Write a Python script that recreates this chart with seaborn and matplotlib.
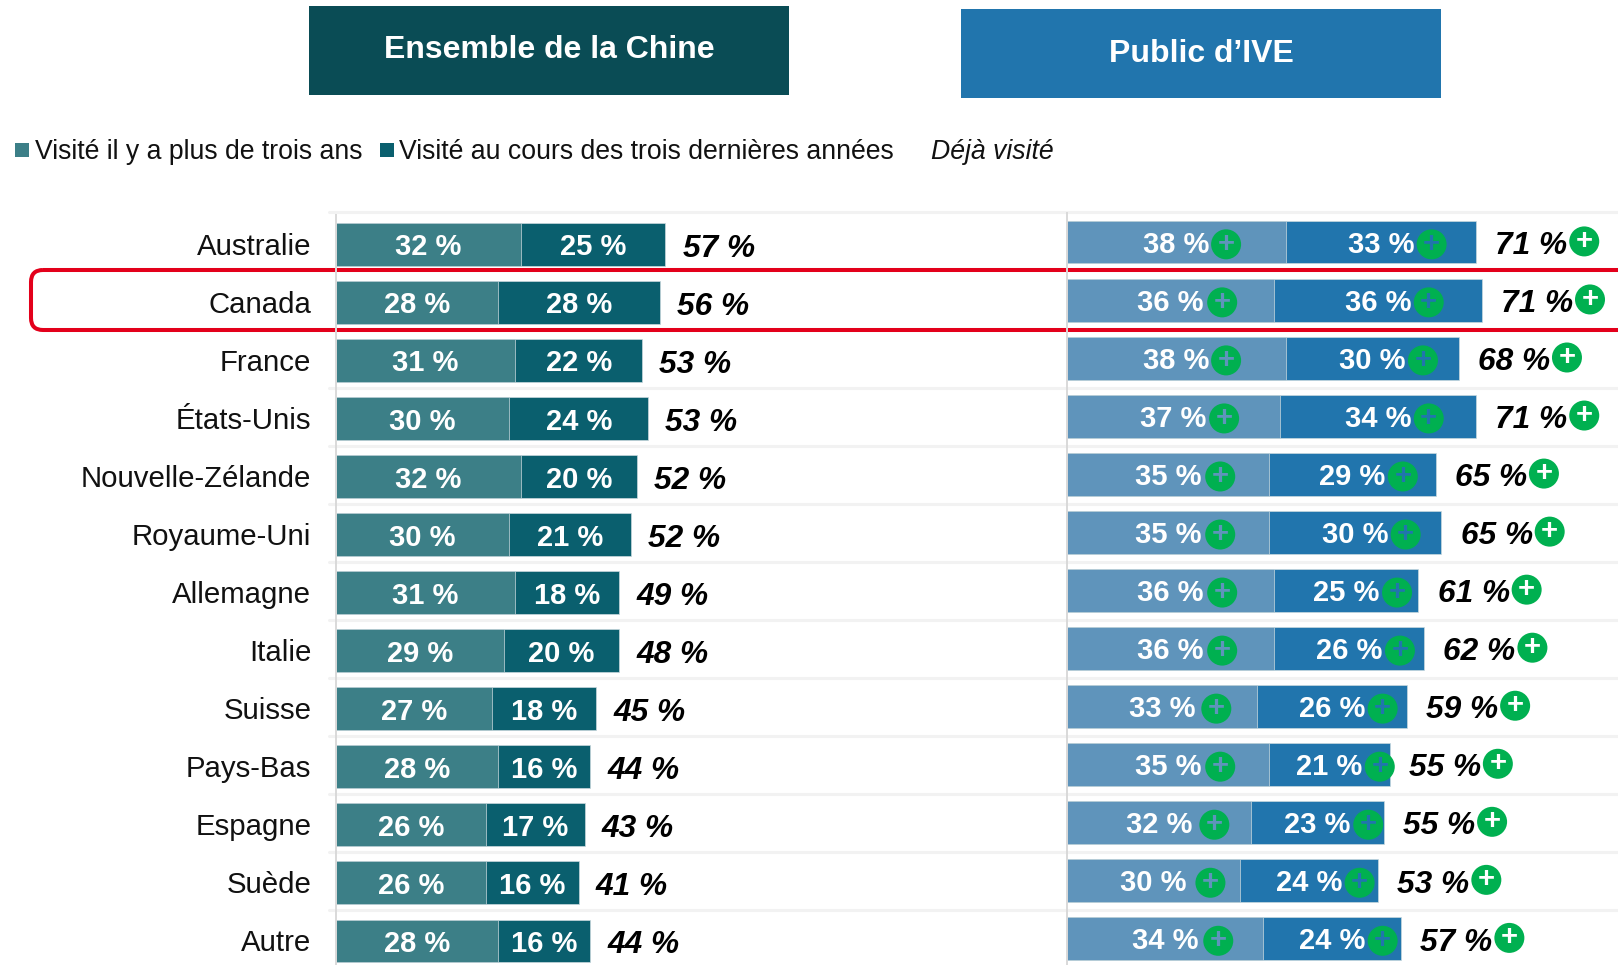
import pandas as pd
import matplotlib.pyplot as plt
import seaborn as sns
from matplotlib.patches import Rectangle, FancyBboxPatch, Ellipse
from matplotlib.transforms import ScaledTranslation

# Data
pays = ["Australie", "Canada", "France", "États-Unis", "Nouvelle-Zélande", "Royaume-Uni", "Allemagne",
        "Italie", "Suisse", "Pays-Bas", "Espagne", "Suède", "Autre"]
chine_ancien = [32, 28, 31, 30, 32, 30, 31, 29, 27, 28, 26, 26, 28]
chine_recent = [25, 28, 22, 24, 20, 21, 18, 20, 18, 16, 17, 16, 16]
chine_total = [57, 56, 53, 53, 52, 52, 49, 48, 45, 44, 43, 41, 44]
ive_ancien = [38, 36, 38, 37, 35, 35, 36, 36, 33, 35, 32, 30, 34]
ive_recent = [33, 36, 30, 34, 29, 30, 25, 26, 26, 21, 23, 24, 24]
ive_total = [71, 71, 68, 71, 65, 65, 61, 62, 59, 55, 55, 53, 57]

TITRES = ["Ensemble de la Chine", "Public d’IVE"]
LEGENDE = ["Visité il y a plus de trois ans", "Visité au cours des trois dernières années", "Déjà visité"]

# Colours
TEAL_HEAD = "#0A4C55"
TEAL_LIGHT = "#3C7F87"
TEAL_DARK = "#0A5F6E"
BLUE_LIGHT = "#5F94BB"
BLUE_DARK = "#2175AD"
GREEN = "#00B050"
RED = "#E3001B"
GRID = "#F2F2F2"
AXIS = "#D9D9D9"

W, H = 1618, 965
ROW = 58.04
FIRST_ROW = 245  # pixel centre of the first row, left panel


def draw_badge(ax, x, y, plus):
    # 30 px wide and high, whatever the data scale
    ax.add_patch(Ellipse((x, y), 30 / 5.76, 30 / ROW, color=GREEN, lw=0, zorder=5, clip_on=False))
    ax.text(x, y - 0.01, "+", color=plus, fontsize=21, fontweight="bold", ha="center", va="center",
            zorder=6, clip_on=False)


def draw_panel(ax, ancien, recent, total, light, dark, badges, total_dx):
    df = pd.DataFrame({"pays": pays, "ancien": ancien, "cumul": [a + r for a, r in zip(ancien, recent)]})
    sns.barplot(data=df, x="cumul", y="pays", color=dark, saturation=1, width=0.74, ax=ax,
                edgecolor="#C9D9DE", linewidth=0.5)
    sns.barplot(data=df, x="ancien", y="pays", color=light, saturation=1, width=0.74, ax=ax,
                edgecolor="#C9D9DE", linewidth=0.5)
    ax.patch.set_alpha(0)
    ax.set_xlabel("")
    ax.set_ylabel("")
    ax.set_xticks([])
    sns.despine(ax=ax, top=True, right=True, bottom=True)
    ax.spines["left"].set_color(AXIS)
    ax.spines["left"].set_linewidth(1.4)

    for i, (a, r, t) in enumerate(zip(ancien, recent, total)):
        ax.text(a / 2, i + 0.05, f"{a} %", color="white", fontsize=21, fontweight="bold",
                ha="center", va="center")
        ax.text(a + r / 2, i + 0.05, f"{r} %", color="white", fontsize=21, fontweight="bold",
                ha="center", va="center")
        ax.text(a + r + total_dx, i + 0.07, f"{t} %", color="black", fontsize=22.8, fontweight="bold",
                fontstyle="italic", ha="center", va="center")
        if badges:
            draw_badge(ax, a * 0.34 + 14.7, i + 0.04, light)
            draw_badge(ax, a + r / 2 + 8.8, i + 0.04, dark)
            draw_badge(ax, a + r + 18.8, i - 0.01, "white")


sns.set_theme(style="white")
plt.rcParams["font.family"] = ["Liberation Sans", "DejaVu Sans"]

fig = plt.figure(figsize=(W / 100, H / 100), dpi=100)

# Overlay in pixel coordinates for headers, legend, rules and the red box
bg = fig.add_axes([0, 0, 1, 1], zorder=0)
bg.set_xlim(0, W)
bg.set_ylim(H, 0)
bg.axis("off")

for x0, x1, y0, y1, col, titre in [(309, 789, 6, 95, TEAL_HEAD, TITRES[0]), (961, 1441, 9, 98, BLUE_DARK, TITRES[1])]:
    bg.add_patch(Rectangle((x0, y0), x1 - x0, y1 - y0, color=col, lw=0))
    bg.text((x0 + x1) / 2, y0 + 44.5, titre, color="white", fontsize=23, fontweight="bold", ha="center", va="center")

bg.add_patch(Rectangle((15, 143), 14, 14, color=TEAL_LIGHT, lw=0))
bg.text(35, 152, LEGENDE[0], fontsize=19.15, color="#111111", va="center")
bg.add_patch(Rectangle((380, 143), 14, 14, color=TEAL_DARK, lw=0))
bg.text(399, 152, LEGENDE[1], fontsize=19.15, color="#111111", va="center")
bg.text(931, 152, LEGENDE[2], fontsize=19.15, color="#111111", fontstyle="italic", va="center")

bg.plot([329, W], [212, 212], color=GRID, lw=2.2)
for k in range(3, 13):
    y = FIRST_ROW - ROW / 2 + k * ROW - 2
    bg.plot([329, W], [y, y], color=GRID, lw=2.2)

bg.add_patch(FancyBboxPatch((31, 270), W, 60, boxstyle="round,pad=0,rounding_size=12", fc="none", ec=RED, lw=2.9))


def panel_axes(x0, x1, dy):
    # rows -0.5..12.5 mapped to pixels
    top = FIRST_ROW + dy - ROW / 2
    bottom = top + 13 * ROW
    return fig.add_axes([x0 / W, 1 - bottom / H, (x1 - x0) / W, (bottom - top) / H], zorder=2)


ax_l = panel_axes(336, 914, -0.5)
ax_r = panel_axes(1067, W, -3)

draw_panel(ax_l, chine_ancien, chine_recent, chine_total, TEAL_LIGHT, TEAL_DARK, False, 9.2)
draw_panel(ax_r, ive_ancien, ive_recent, ive_total, BLUE_LIGHT, BLUE_DARK, True, 9.6)

ax_l.set_xlim(0, 578 / 5.78)
ax_r.set_xlim(0, (W - 1067) / 5.76)
for ax in (ax_l, ax_r):
    ax.set_ylim(12.5, -0.5)

ax_l.tick_params(axis="y", length=0, pad=17.8, labelsize=21.2, labelcolor="#111111")
for lab in ax_l.get_yticklabels():
    lab.set_transform(lab.get_transform() + ScaledTranslation(0, 0.005, fig.dpi_scale_trans))
ax_r.set_yticklabels([])
ax_r.tick_params(axis="y", length=0)

fig.savefig("out.png", dpi=100)
